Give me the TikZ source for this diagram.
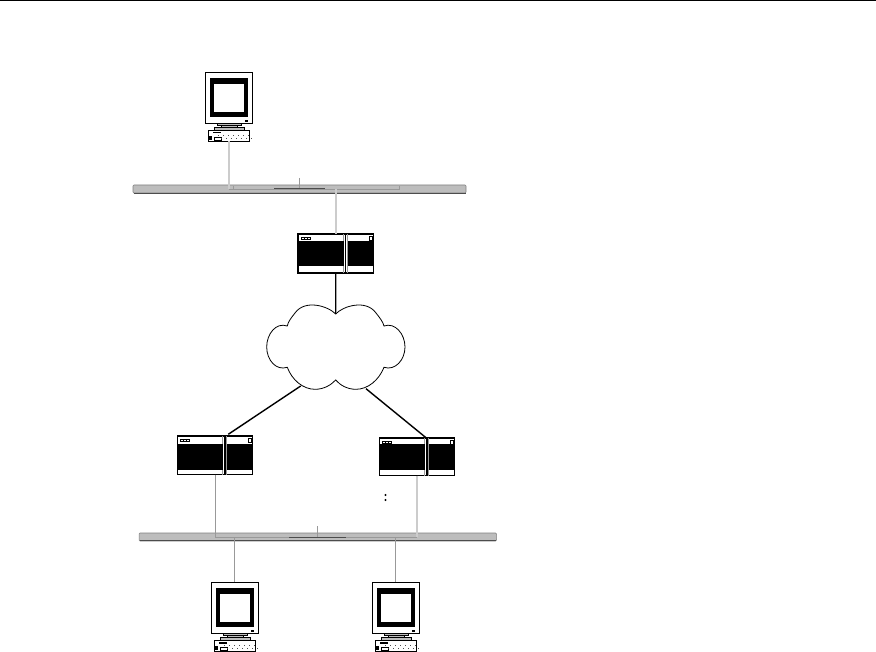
\documentclass[tikz,border=0pt]{standalone}
\usepackage{tikz}
\usetikzlibrary{calc}
\definecolor{busgray}{gray}{0.74}
\definecolor{linkgray}{gray}{0.8}
\definecolor{wiregray}{gray}{0.6}
\definecolor{darkwire}{gray}{0.3}
\tikzset{
    every picture/.style={line width=0.75pt},
    blank/.style={draw=none,inner sep=0pt,outer sep=0pt},
    monbox/.style={blank,draw=black,line width=0.9pt,fill=white,anchor=north west,minimum width=47pt,minimum height=51pt},
    kbbox/.style={blank,draw=black,line width=0.7pt,fill=white,anchor=north west,minimum width=41pt,minimum height=11pt},
    routerbox/.style={blank,draw=black,line width=1.1pt,fill=white,anchor=north west,minimum width=75.5pt},
    busbar/.style={blank,draw=gray,line width=0.6pt,fill=busgray,rounded corners=1pt,minimum height=8pt},
    paleline/.style={draw=linkgray,line width=2pt},
    thinline/.style={draw=wiregray,line width=0.9pt},
    netline/.style={draw=black,line width=1.4pt}
}
% monitor with keyboard: name, left, top
\newcommand{\drawmonitor}[3]{
    \node[kbbox] (#1kb) at (#2+3,#3+58) {};
    \node[monbox] (#1) at (#2,#3) {};
    \begin{scope}[shift={(#2,#3)}]
        \fill[black] (5,6) rectangle (43,45);
        \fill[white] (9,12) rectangle (38.5,40);
        \fill[black] (40,48) rectangle (43,50);
        \draw[fill=busgray,line width=0.5pt] (12,51) rectangle (36,53);
        \draw[fill=busgray,line width=0.5pt] (16,53) rectangle (32,55);
        \draw[fill=busgray,line width=0.5pt] (9,55) rectangle (39,58);
        \fill[black] (8,60) rectangle (16,61.5);
        \fill[black] (4,64) rectangle (7,68);
        \draw[line width=0.5pt] (9,65) rectangle (16,68);
        \foreach \x in {13,18,...,43} {
            \fill[darkwire] (\x,62.6) rectangle +(1,1);
            \fill[darkwire] (\x+3,65.6) rectangle +(1,1);
        }
    \end{scope}
}
% router window: name, left, top, height, top of the black part
\newcommand{\drawrouter}[5]{
    \node[routerbox,minimum height=#4pt] (#1) at (#2,#3) {};
    \begin{scope}[shift={(#2,#3)}]
        \draw[wiregray,line width=1pt] (45,0) -- (45,#4);
        \fill[black] (0,#5) rectangle (46,#5+25.5);
        \fill[black] (50,#5) rectangle (75.5,#5+25.5);
        \draw[wiregray,line width=1pt] (49.5,0) -- (49.5,#4);
        \draw[black,line width=1.3pt] (47.6,0) -- (47.6,#4);
        \fill[black] (3,3) rectangle (13,6);
        \fill[white] (4,4) rectangle +(2,1);
        \fill[white] (7,4) rectangle +(2,1);
        \fill[white] (10,4) rectangle +(2,1);
        \draw[black,line width=0.8pt] (71,2.5) rectangle (74.5,6);
    \end{scope}
}

\begin{document}
\begin{tikzpicture}[x=1pt,y=-1pt]
    \useasboundingbox (0,0) rectangle (876,652);
    % page rule
    \draw[black,line width=1pt] (0,0.5) -- (876,0.5);

    % upper segment
    \node[busbar,minimum width=333pt] (bustop) at (299.5,189) {};
    \draw[darkwire,line width=0.7pt] (133.5,193) -- (465.5,193);
    \drawmonitor{monup}{205}{72}
    \drawrouter{rtrup}{298}{234}{39}{7}
    \coordinate (upl) at (233,186);
    \coordinate (upr) at (399,186);
    \coordinate (uphub) at (299,178);
    \draw[paleline] (monupkb.south) -- (monupkb.south |- bustop.center);
    \draw[thinline] (monupkb.south |- bustop.center) -- (upl |- bustop.center) -- (upl);
    \draw[thinline] (upl |- bustop.center) -- (upr |- bustop.center) -- (upr);
    \draw[thinline] (uphub) -- (uphub |- bustop.center);
    \draw[darkwire,line width=1pt] (274,189) -- (325,189);
    \draw[paleline] (rtrup.north) -- (rtrup.north |- bustop.center);

    % cloud
    \draw[black,line width=0.8pt,fill=white] (335.7,314)
        .. controls (328,306) and (305,299) .. (295,313)
        .. controls (291,318) and (288,322) .. (287.3,326)
        .. controls (276,322) and (266.7,334) .. (266.7,347)
        .. controls (266.7,360) and (276,371) .. (287.3,367.3)
        .. controls (292,380) and (303,389.3) .. (315,389.3)
        .. controls (324,389.3) and (331,385) .. (335.7,380)
        .. controls (340,385) and (347,389.3) .. (356,389.3)
        .. controls (368,389.3) and (379,380) .. (384,367.3)
        .. controls (395,371) and (405,360) .. (405,347)
        .. controls (405,334) and (395,322) .. (384,326)
        .. controls (383,322) and (380,318) .. (376,313)
        .. controls (366,299) and (343,306) .. (335.7,314) -- cycle;
    \coordinate (cloudtop) at (335.7,314);
    \coordinate (cloudl) at (300.7,386);
    \coordinate (cloudr) at (366,388.7);
    \draw[netline,line width=1.1pt] (rtrup.south) -- (cloudtop);

    % lower segment
    \node[busbar,minimum width=357.5pt] (buslow) at (317.8,537) {};
    \draw[darkwire,line width=0.7pt] (139.5,540.7) -- (496,540.7);
    \drawrouter{rtrl}{177.3}{436}{38.7}{8}
    \drawrouter{rtrr}{379.3}{438}{37.7}{6}
    \coordinate (endl) at (228.3,434.3);
    \coordinate (endr) at (426,437.7);
    \draw[netline] (cloudl) -- (endl);
    \draw[netline] (cloudr) -- (endr);
    \fill[black] (385.5,495) circle (1.1pt);
    \fill[black] (385.5,500) circle (1.1pt);
    \coordinate (lowhub) at (317.3,526);
    \draw[thinline] (rtrl.south) -- (rtrl.south |- buslow.center) -- (rtrr.south |- buslow.center);
    \draw[paleline] (rtrr.south) -- (rtrr.south |- buslow.center);
    \draw[thinline] (lowhub) -- (lowhub |- buslow.center);
    \draw[darkwire,line width=1pt] (289,537.5) -- (346,537.5);

    % lower monitors
    \drawmonitor{monl}{211}{582}
    \drawmonitor{monr}{372}{582}
    \coordinate (tapl) at (234.7,537);
    \coordinate (tapr) at (395.3,537);
    \draw[thinline] (monl.north -| tapl) -- (tapl);
    \draw[thinline] (monr.north -| tapr) -- (tapr);
\end{tikzpicture}
\end{document}
